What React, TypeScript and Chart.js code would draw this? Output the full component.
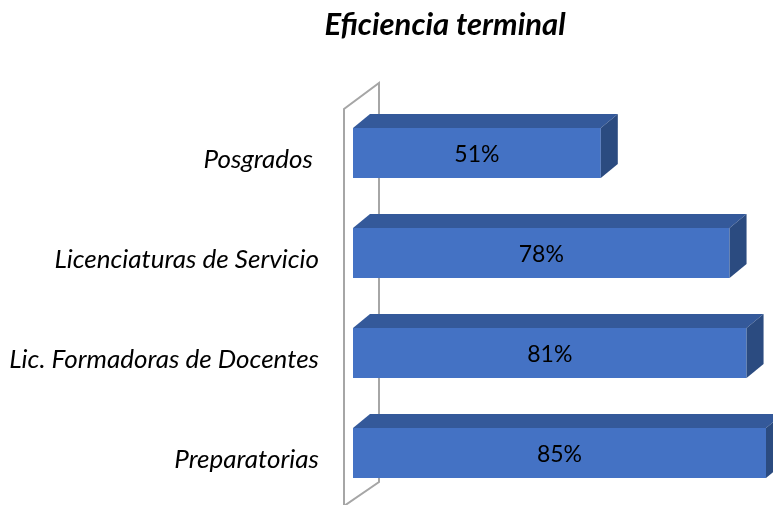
import React, { useEffect, useRef } from "react";
import { Chart, registerables } from "chart.js";

Chart.register(...registerables);

const categories = ["Posgrados ", "Licenciaturas de Servicio", "Lic. Formadoras de Docentes", "Preparatorias"];
const values = [51, 77.5, 81, 85];
const titleText = "Eficiencia terminal";

const FONT = "Lato, 'Open Sans', sans-serif";
const FRONT = "#4472C4";
const TOP = "#34599A";
const SIDE = "#2B4B80";
const DX = 17;
const DY = 14;

const threeD = {
  id: "threeD",
  beforeDatasetsDraw(chart: any) {
    const { ctx, chartArea } = chart;
    const l = chartArea.left;
    const t = chartArea.top;
    const b = chartArea.bottom;
    ctx.save();
    ctx.strokeStyle = "#A6A6A6";
    ctx.lineWidth = 2;
    ctx.beginPath();
    ctx.moveTo(l - 9, chart.height + 5);
    ctx.lineTo(l - 9, t + 6);
    ctx.lineTo(l + 26, t - 20);
    ctx.lineTo(l + 26, b - 21);
    ctx.lineTo(l - 9, b + 3);
    ctx.stroke();
    ctx.restore();
  },
  afterDatasetsDraw(chart: any) {
    const { ctx } = chart;
    const meta = chart.getDatasetMeta(0);
    ctx.save();
    meta.data.forEach((bar: any, i: number) => {
      const x0 = bar.base;
      const x1 = bar.x;
      const top = bar.y - bar.height / 2;
      const bot = bar.y + bar.height / 2;
      ctx.fillStyle = TOP;
      ctx.beginPath();
      ctx.moveTo(x0, top);
      ctx.lineTo(x1, top);
      ctx.lineTo(x1 + DX, top - DY);
      ctx.lineTo(x0 + DX, top - DY);
      ctx.closePath();
      ctx.fill();
      ctx.fillStyle = SIDE;
      ctx.beginPath();
      ctx.moveTo(x1, top);
      ctx.lineTo(x1 + DX, top - DY);
      ctx.lineTo(x1 + DX, bot - DY);
      ctx.lineTo(x1, bot);
      ctx.closePath();
      ctx.fill();
      ctx.fillStyle = "#000000";
      ctx.font = `23px ${FONT}`;
      ctx.textAlign = "center";
      ctx.textBaseline = "middle";
      ctx.fillText(Math.round(values[i]) + "%", (x0 + x1) / 2, bar.y + 2);
    });
    ctx.restore();
  },
  afterDraw(chart: any) {
    const { ctx } = chart;
    ctx.save();
    ctx.fillStyle = "#000000";
    ctx.font = `italic bold 31px ${FONT}`;
    ctx.textAlign = "center";
    ctx.textBaseline = "middle";
    ctx.fillText(titleText, 445, 25);
    ctx.restore();
  },
};

export default function App() {
  const ref = useRef<HTMLCanvasElement | null>(null);
  useEffect(() => {
    if (!ref.current) return;
    const chart = new Chart(ref.current, {
      type: "bar",
      data: {
        labels: categories,
        datasets: [
          {
            data: values,
            backgroundColor: FRONT,
            borderWidth: 0,
            categoryPercentage: 1,
            barPercentage: 0.5,
          },
        ],
      },
      options: {
        indexAxis: "y",
        responsive: false,
        animation: false,
        layout: { padding: { left: 0, right: 7, top: 103, bottom: 2 } },
        plugins: {
          legend: { display: false },
          tooltip: { enabled: false },
          title: { display: false },
        },
        scales: {
          x: { display: false, min: 0, max: 85 },
          y: {
            grid: { display: false, drawTicks: false },
            border: { display: false },
            ticks: {
              color: "#000000",
              padding: 34,
              labelOffset: 7,
              font: { family: FONT, size: 26, style: "italic" },
            },
            afterFit: (scale: any) => {
              scale.width = 353;
              scale.paddingTop = 0;
              scale.paddingBottom = 0;
            },
          },
        },
      },
      plugins: [threeD],
    });
    return () => chart.destroy();
  }, []);
  return (
    <canvas
      ref={ref}
      width={773}
      height={505}
      style={{ position: "absolute", left: 0, top: 0, display: "block" }}
    />
  );
}
